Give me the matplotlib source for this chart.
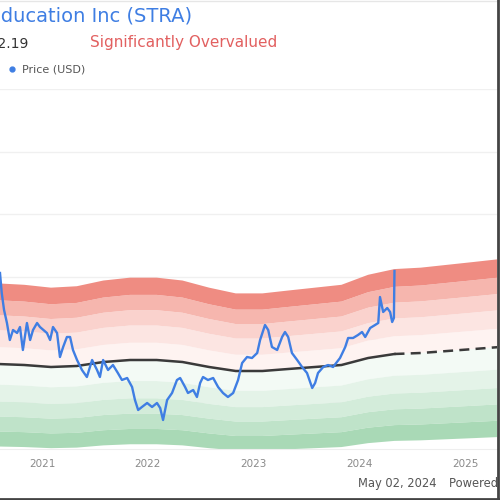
import numpy as np
import pandas as pd
import matplotlib
matplotlib.use("Agg")
import matplotlib.pyplot as plt
from matplotlib.lines import Line2D

# price series (USD)
price_dates = [
    "2020-08-09", "2020-08-15", "2020-08-23", "2020-09-02", "2020-09-12", "2020-09-23",
    "2020-10-07", "2020-10-17", "2020-10-27", "2020-11-10", "2020-11-21", "2020-12-01",
    "2020-12-15", "2020-12-25", "2021-01-18", "2021-01-29", "2021-02-08", "2021-02-22",
    "2021-03-04", "2021-03-15", "2021-03-28", "2021-04-08", "2021-04-18", "2021-05-02",
    "2021-05-19", "2021-06-05", "2021-06-23", "2021-07-10", "2021-07-20", "2021-07-31",
    "2021-08-17", "2021-09-03", "2021-09-20", "2021-10-04", "2021-10-22", "2021-11-08",
    "2021-11-18", "2021-11-29", "2021-12-12", "2021-12-30", "2022-01-16", "2022-02-02",
    "2022-02-13", "2022-02-23", "2022-03-09", "2022-03-26", "2022-04-12", "2022-04-23",
    "2022-05-10", "2022-05-20", "2022-06-07", "2022-06-20", "2022-07-01", "2022-07-11",
    "2022-07-28", "2022-08-15", "2022-09-01", "2022-09-18", "2022-10-05", "2022-10-23",
    "2022-11-09", "2022-11-23", "2022-12-10", "2022-12-27", "2023-01-14", "2023-01-24",
    "2023-02-10", "2023-02-21", "2023-03-06", "2023-03-24", "2023-04-10", "2023-04-20",
    "2023-05-01", "2023-05-14", "2023-06-01", "2023-06-18", "2023-07-05", "2023-07-23",
    "2023-08-02", "2023-08-12", "2023-08-30", "2023-09-16", "2023-10-03", "2023-10-27",
    "2023-11-14", "2023-11-24", "2023-12-11", "2023-12-28", "2024-01-11", "2024-01-22",
    "2024-02-08", "2024-02-25", "2024-03-07", "2024-03-13", "2024-03-24", "2024-04-07",
    "2024-04-17", "2024-04-24", "2024-04-30", "2024-05-02",
]
price_values = [
    111.4, 103.4, 96.6, 91.4, 84.6, 88.6,
    87.4, 89.8, 80.6, 91.4, 84.6, 88.6,
    91.4, 89.8, 87.4, 84.6, 89.8, 87.4,
    77.8, 81.8, 85.8, 85.8, 80.6, 76.6,
    72.6, 69.8, 76.6, 72.6, 69.8, 76.6,
    72.6, 74.6, 71.4, 68.6, 69.4, 65.8,
    60.6, 56.6, 57.8, 59.4, 57.8, 59.4,
    57.4, 52.6, 60.6, 63.4, 68.6, 69.4,
    65.8, 63.4, 64.6, 61.8, 67.4, 69.8,
    68.6, 69.4, 65.8, 63.4, 61.8, 63.4,
    68.6, 75.4, 77.8, 77.4, 79.4, 84.6,
    90.6, 88.6, 81.8, 80.6, 85.8, 87.8,
    85.8, 79.4, 76.6, 73.8, 71.4, 65.4,
    67.4, 71.4, 73.8, 74.6, 73.8, 77.4,
    81.8, 85.4, 85.4, 86.6, 87.8, 85.8,
    89.4, 90.6, 91.4, 101.8, 95.8, 97.4,
    95.8, 91.8, 93.4, 112.19,
]

# GF value line (quarterly)
gf_dates = [
    "2020-08-01", "2020-11-01", "2021-02-01", "2021-05-01", "2021-08-01",
    "2021-11-01", "2022-02-01", "2022-05-01", "2022-08-01", "2022-11-01",
    "2023-02-01", "2023-05-01", "2023-08-01", "2023-11-01", "2024-02-01",
    "2024-05-02", "2024-08-01", "2024-11-01", "2025-02-01", "2025-05-01",
]
gf_values = [
    75.0, 74.6, 73.8, 74.2, 75.8,
    76.6, 76.6, 75.8, 73.8, 72.2,
    72.2, 73.0, 73.8, 74.6, 77.4,
    79.0, 79.4, 80.2, 81.0, 81.8,
]
today = "2024-05-02"

# band multipliers around the GF value line
red_edges = [1.0, 1.09, 1.18, 1.26, 1.34, 1.43]
red_colors = ["#fef3f1", "#fce5e2", "#fad2cd", "#f6b6ae", "#ef8c82"]
green_edges = [1.0, 0.89, 0.80, 0.72, 0.64, 0.56]
green_colors = ["#f3faf5", "#e4f3e8", "#d3ecda", "#bfe3c9", "#a9d9b6"]

years = ["2021", "2022", "2023", "2024", "2025"]

p_dates = pd.to_datetime(price_dates)
g_dates = pd.to_datetime(gf_dates)
gf = np.array(gf_values)
today_dt = pd.Timestamp(today)

fig = plt.figure(figsize=(5, 5), dpi=100)
ax = fig.add_axes([0, 0.102, 0.994, 0.72])
ax.set_axisbelow(True)

for i in range(len(red_colors)):
    ax.fill_between(g_dates, gf * red_edges[i], gf * red_edges[i + 1],
                    color=red_colors[i], lw=0, zorder=1)
for i in range(len(green_colors)):
    ax.fill_between(g_dates, gf * green_edges[i + 1], gf * green_edges[i],
                    color=green_colors[i], lw=0, zorder=1)

past = g_dates <= today_dt
ax.plot(g_dates[past], gf[past], color="#3a3a3a", lw=1.8, zorder=3)
fut = g_dates >= today_dt
ax.plot(g_dates[fut], gf[fut], color="#3a3a3a", lw=1.8, ls=(0, (4, 2.5)), zorder=3)

ax.plot(p_dates, price_values, color="#3f7ee3", lw=1.7, zorder=4)

ax.set_xlim(pd.Timestamp("2020-08-09"), pd.Timestamp("2025-04-21"))
ax.set_ylim(41, 185)
ax.set_yticks([60, 85, 110, 135, 160, 185])
ax.set_yticklabels([])
ax.grid(axis="y", color="#f0f0f0", lw=1)
ax.set_xticks(pd.to_datetime([y + "-01-01" for y in years]))
ax.set_xticklabels(years, color="#8a8a8a", fontsize=7.5)
ax.tick_params(length=0, pad=7)
for s in ["left", "right", "top"]:
    ax.spines[s].set_visible(False)
ax.spines["bottom"].set_color("#eeeeee")

fig.text(192 / 500, 1 - 17 / 500, "Strategic Education Inc (STRA)", ha="right", va="center",
         color="#3f7ee3", fontsize=14)
fig.text(28 / 500, 1 - 44 / 500, "Price: $112.19", ha="right", va="center",
         color="#333333", fontsize=10)
fig.text(90 / 500, 1 - 43 / 500, "Significantly Overvalued", ha="left", va="center",
         color="#e26060", fontsize=11)
fig.add_artist(Line2D([12 / 500], [1 - 69 / 500], marker="o", ms=3.5, color="#3f7ee3", lw=0))
fig.text(22 / 500, 1 - 69 / 500, "Price (USD)", ha="left", va="center",
         color="#555555", fontsize=8)
fig.text(397 / 500, 1 - 484 / 500, "May 02, 2024", ha="center", va="center",
         color="#555555", fontsize=8.3)
fig.text(449 / 500, 1 - 484 / 500, "Powered by GuruFocus", ha="left", va="center",
         color="#555555", fontsize=8.3)

# card borders
fig.add_artist(Line2D([0, 1], [0.998, 0.998], color="#e6e6e6", lw=1))
fig.add_artist(Line2D([0.996, 0.996], [0, 1], color="#444444", lw=2))
fig.add_artist(Line2D([0, 1], [0.003, 0.003], color="#444444", lw=2))

fig.savefig("out.png", dpi=100)
